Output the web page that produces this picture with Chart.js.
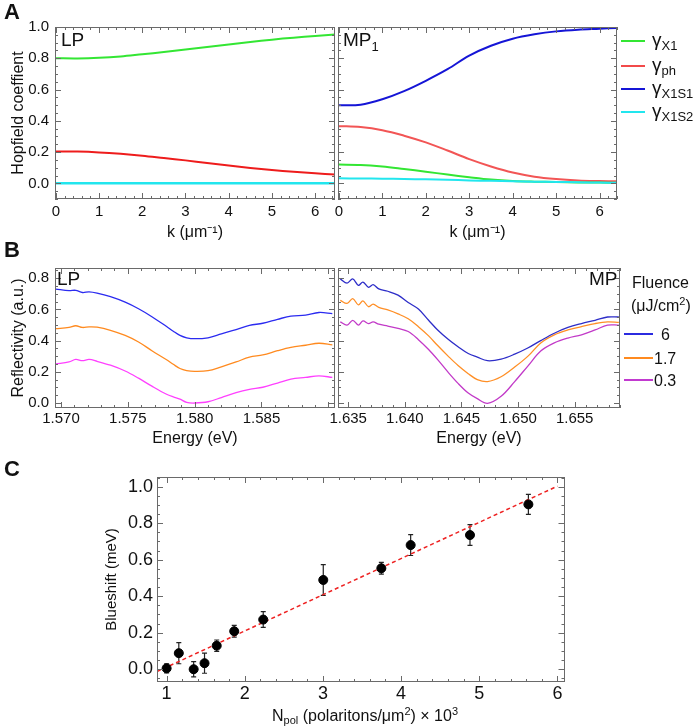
<!DOCTYPE html>
<html>
<head>
<meta charset="utf-8">
<script src="https://cdn.jsdelivr.net/npm/chart.js@4.4.1/dist/chart.umd.min.js"></script>
<style>
  body { margin: 0; background: #fff; font-family: 'Liberation Sans', Arial, sans-serif; color: #111; }
  #wrap { position: relative; width: 700px; height: 727px; overflow: hidden; }
  canvas { position: absolute; }
  .t { position: absolute; white-space: nowrap; line-height: 1; }
  .panel { font-weight: bold; font-size: 22px; }
  .lab { font-size: 19px; }
  .leg { position: absolute; height: 2px; width: 24px; }
  .g { font-size: 19px; }
  .g sub { font-size: 13px; vertical-align: -4px; }
  sub, sup { line-height: 0; }
</style>
</head>
<body>
<div id="wrap">
  <canvas id="aLP" width="336" height="243" style="left:0;top:0"></canvas>
  <canvas id="aMP" width="302" height="243" style="left:316px;top:0"></canvas>
  <canvas id="bLP" width="336" height="201" style="left:0;top:248px"></canvas>
  <canvas id="bMP" width="305" height="201" style="left:316px;top:248px"></canvas>
  <canvas id="cShift" width="480" height="272" style="left:90px;top:455px"></canvas>

  <div class="t panel" style="left:4px;top:1px">A</div>
  <div class="t panel" style="left:4px;top:239px">B</div>
  <div class="t panel" style="left:4px;top:458px">C</div>

  <div class="t lab" style="left:61px;top:30px">LP</div>
  <div class="t lab" style="left:343px;top:30px">MP<sub style="font-size:13px;vertical-align:-5px">1</sub></div>
  <div class="t lab" style="left:57px;top:269px">LP</div>
  <div class="t lab" style="left:589px;top:269px">MP</div>

  <!-- legend A -->
  <div class="leg" style="left:621px;top:40px;background:#33e633"></div>
  <div class="t g" style="left:652px;top:30px">γ<sub>X1</sub></div>
  <div class="leg" style="left:621px;top:65px;background:#f24a4a"></div>
  <div class="t g" style="left:652px;top:55px">γ<sub>ph</sub></div>
  <div class="leg" style="left:621px;top:88px;background:#1515d6"></div>
  <div class="t g" style="left:652px;top:78px">γ<sub>X1S1</sub></div>
  <div class="leg" style="left:621px;top:111px;background:#22e6ee"></div>
  <div class="t g" style="left:652px;top:101px">γ<sub>X1S2</sub></div>

  <!-- legend B -->
  <div class="t" style="left:632px;top:275px;font-size:16px">Fluence</div>
  <div class="t" style="left:631px;top:298px;font-size:16px">(μJ/cm<sup style="font-size:11px">2</sup>)</div>
  <div class="leg" style="left:624px;top:333px;width:29px;height:1.5px;background:#2b2be0"></div>
  <div class="t" style="left:661px;top:327px;font-size:16px">6</div>
  <div class="leg" style="left:624px;top:357px;width:29px;height:1.5px;background:#ff8a1f"></div>
  <div class="t" style="left:654px;top:351px;font-size:16px">1.7</div>
  <div class="leg" style="left:624px;top:379px;width:29px;height:1.5px;background:#c23ad0"></div>
  <div class="t" style="left:654px;top:373px;font-size:16px">0.3</div>

  <div class="t" style="left:272px;top:708px;font-size:16px">N<sub style="font-size:11px;vertical-align:-3px">pol</sub> (polaritons/μm<sup style="font-size:11px">2</sup>) × 10<sup style="font-size:11px">3</sup></div>
</div>

<script>
// ---- panel A: Hopfield coefficients vs k (µm^-1)
const kLP = [0, 0.5, 1, 1.5, 2, 2.5, 3, 3.5, 4, 4.5, 5, 5.5, 6, 6.46];
const lpX1 = [0.800, 0.799, 0.803, 0.812, 0.826, 0.840, 0.856, 0.872, 0.888, 0.904, 0.919, 0.932, 0.943, 0.952];
const lpPh = [0.204, 0.203, 0.198, 0.189, 0.177, 0.162, 0.147, 0.130, 0.114, 0.099, 0.086, 0.074, 0.064, 0.057];
const lpX1S1 = [0.002, 0.002, 0.002, 0.002, 0.002, 0.002, 0.002, 0.002, 0.002, 0.002, 0.002, 0.002, 0.002, 0.002];
const lpX1S2 = [0, 0, 0, 0, 0, 0, 0, 0, 0, 0, 0, 0, 0, 0];

const kMP = [0, 0.5, 1, 1.5, 2, 2.5, 3, 3.5, 4, 4.5, 5, 5.5, 6, 6.4];
const mpX1 = [0.120, 0.118, 0.108, 0.092, 0.075, 0.056, 0.039, 0.024, 0.015, 0.011, 0.009, 0.006, 0.005, 0.004];
const mpPh = [0.366, 0.360, 0.340, 0.305, 0.262, 0.210, 0.155, 0.108, 0.069, 0.043, 0.028, 0.019, 0.015, 0.013];
const mpX1S1 = [0.499, 0.503, 0.538, 0.590, 0.656, 0.730, 0.817, 0.880, 0.925, 0.953, 0.972, 0.983, 0.989, 0.994];
const mpX1S2 = [0.032, 0.031, 0.030, 0.028, 0.026, 0.023, 0.019, 0.016, 0.013, 0.011, 0.009, 0.007, 0.005, 0.004];

const hopTicksY = [0, 0.2, 0.4, 0.6, 0.8, 1.0];
const kTicks = [0, 1, 2, 3, 4, 5, 6];

// ---- panel B: reflectivity spectra (eV)
const eLP = [1.5696, 1.5706, 1.5711, 1.5716, 1.5721, 1.5727, 1.5737, 1.5748, 1.5758, 1.5768, 1.5779, 1.5784, 1.5789,
             1.5794, 1.5800, 1.5810, 1.5820, 1.5831, 1.5841, 1.5851, 1.5862, 1.5872, 1.5883, 1.5893, 1.5903];
const lpF6 = [0.730, 0.720, 0.722, 0.708, 0.712, 0.704, 0.681, 0.646, 0.604, 0.553, 0.490, 0.460, 0.433,
              0.418, 0.412, 0.418, 0.443, 0.470, 0.497, 0.511, 0.536, 0.557, 0.563, 0.580, 0.573];
const lpF17 = [0.476, 0.484, 0.495, 0.484, 0.488, 0.486, 0.466, 0.433, 0.391, 0.335, 0.277, 0.248, 0.221,
               0.208, 0.203, 0.207, 0.232, 0.263, 0.294, 0.308, 0.335, 0.356, 0.370, 0.383, 0.373];
const lpF03 = [0.250, 0.263, 0.279, 0.271, 0.279, 0.267, 0.242, 0.205, 0.159, 0.108, 0.056, 0.039, 0.025,
               0.004, 0.000, 0.008, 0.035, 0.066, 0.087, 0.101, 0.128, 0.153, 0.164, 0.174, 0.164];

const eMP = [1.6343, 1.6349, 1.6354, 1.6359, 1.6363, 1.6368, 1.6372, 1.6377, 1.6385, 1.6394, 1.6403, 1.6412, 1.6421,
             1.6429, 1.6438, 1.6447, 1.6456, 1.6464, 1.6473, 1.6485, 1.6497, 1.6509, 1.6520, 1.6532, 1.6544,
             1.6556, 1.6568, 1.6579, 1.6589];
const mpF6 = [0.795, 0.768, 0.795, 0.754, 0.775, 0.741, 0.758, 0.731, 0.716, 0.691, 0.644, 0.602, 0.530,
              0.468, 0.410, 0.360, 0.317, 0.294, 0.271, 0.281, 0.313, 0.354, 0.400, 0.447, 0.484,
              0.509, 0.530, 0.551, 0.551];
const mpF17 = [0.658, 0.638, 0.669, 0.629, 0.654, 0.617, 0.634, 0.613, 0.596, 0.571, 0.540, 0.489, 0.430,
               0.368, 0.302, 0.240, 0.188, 0.150, 0.137, 0.168, 0.230, 0.302, 0.385, 0.437, 0.468,
               0.489, 0.509, 0.520, 0.516];
const mpF03 = [0.520, 0.499, 0.530, 0.499, 0.526, 0.509, 0.520, 0.505, 0.493, 0.478, 0.458, 0.406, 0.343,
               0.278, 0.199, 0.126, 0.064, 0.028, -0.002, 0.043, 0.137, 0.240, 0.333, 0.385, 0.416,
               0.437, 0.468, 0.499, 0.499];

const reflTicksY = [0, 0.2, 0.4, 0.6, 0.8];
const eTicksLP = [1.570, 1.575, 1.580, 1.585];
const eTicksMP = [1.635, 1.640, 1.645, 1.650, 1.655];

// ---- panel C: blueshift vs polariton density
const nPol = [1.0, 1.156, 1.346, 1.485, 1.641, 1.865, 2.236, 3.004, 3.747, 4.122, 4.881, 5.628];
const shift = [0.005, 0.088, 0.000, 0.033, 0.129, 0.208, 0.272, 0.489, 0.553, 0.680, 0.735, 0.903];
const shiftErr = [0.025, 0.058, 0.042, 0.055, 0.031, 0.032, 0.043, 0.084, 0.032, 0.057, 0.057, 0.055];
const fitX = [0.877, 6.0];
const fitY = [-0.013, 1.003];
const nTicks = [1, 2, 3, 4, 5, 6];
const shiftTicks = [0, 0.2, 0.4, 0.6, 0.8, 1.0];

Chart.defaults.font.family = "'Liberation Sans', Arial, sans-serif";
Chart.defaults.color = '#111';

const pts = (xs, ys) => xs.map((x, i) => ({ x: x, y: ys[i] }));
const fixW = w => s => { s.width = w; };
const fixH = h => s => { s.height = h; };
const setTicks = vals => s => { s.ticks = vals.map(v => ({ value: v })); };

// Mathematica-style frame with inward major/minor ticks on all four sides
const frameTicks = {
    id: 'frameTicks',
    afterDatasetsDraw(chart, args, o) {
        const { ctx, chartArea: a } = chart;
        const xs = chart.scales.x, ys = chart.scales.y;
        ctx.save();
        ctx.strokeStyle = '#6a6a6a';
        ctx.lineWidth = 1;
        ctx.beginPath();
        const marks = (scale, step, len, horiz) => {
            const n0 = Math.ceil(scale.min / step - 1e-6), n1 = Math.floor(scale.max / step + 1e-6);
            for (let n = n0; n <= n1; n++) {
                const p = Math.round(scale.getPixelForValue(n * step)) + 0.5;
                if (horiz) {
                    ctx.moveTo(p, a.bottom); ctx.lineTo(p, a.bottom - len);
                    ctx.moveTo(p, a.top); ctx.lineTo(p, a.top + len);
                } else {
                    ctx.moveTo(a.left, p); ctx.lineTo(a.left + len, p);
                    ctx.moveTo(a.right, p); ctx.lineTo(a.right - len, p);
                }
            }
        };
        marks(xs, o.xMinor, 3, true);
        marks(xs, o.xMajor, 6, true);
        marks(ys, o.yMinor, 3, false);
        marks(ys, o.yMajor, 6, false);
        ctx.stroke();
        ctx.strokeRect(Math.round(a.left) + 0.5, Math.round(a.top) + 0.5,
                       Math.round(a.right - a.left) - 1, Math.round(a.bottom - a.top) - 1);
        ctx.restore();
    }
};

const errorBars = {
    id: 'errorBars',
    beforeDatasetsDraw(chart) {
        const { ctx, scales: { x, y } } = chart;
        ctx.save();
        ctx.strokeStyle = '#222';
        ctx.lineWidth = 1.2;
        nPol.forEach((n, i) => {
            const px = x.getPixelForValue(n);
            const top = y.getPixelForValue(shift[i] + shiftErr[i]);
            const bot = y.getPixelForValue(shift[i] - shiftErr[i]);
            ctx.beginPath();
            ctx.moveTo(px, top); ctx.lineTo(px, bot);
            ctx.moveTo(px - 2.5, top); ctx.lineTo(px + 2.5, top);
            ctx.moveTo(px - 2.5, bot); ctx.lineTo(px + 2.5, bot);
            ctx.stroke();
        });
        ctx.restore();
    }
};

function line(xs, ys, color, width) {
    return { data: pts(xs, ys), borderColor: color, borderWidth: width, pointRadius: 0, tension: 0.35, fill: false };
}

function makeChart(id, datasets, opt) {
    const yScale = opt.yTitle ? {
        type: 'linear', min: opt.yMin, max: opt.yMax,
        afterFit: fixW(opt.yWidth), afterBuildTicks: setTicks(opt.yTicks),
        grid: { display: false, drawTicks: false }, border: { display: false },
        ticks: { padding: opt.yPad, font: { size: opt.tickSize }, callback: v => v.toFixed(1) },
        title: { display: true, text: opt.yTitle, font: { size: opt.titleSize }, padding: { top: opt.yTitlePad, bottom: 0 } }
    } : { type: 'linear', min: opt.yMin, max: opt.yMax, display: false };

    return new Chart(document.getElementById(id), {
        type: 'line',
        data: { datasets: datasets },
        options: {
            responsive: false,
            animation: false,
            events: [],
            layout: { padding: { top: opt.padTop, right: 1, left: opt.padLeft || 0, bottom: 0 } },
            scales: {
                x: {
                    type: 'linear', min: opt.xMin, max: opt.xMax,
                    afterFit: fixH(opt.xHeight), afterBuildTicks: setTicks(opt.xTicks),
                    grid: { display: false, drawTicks: false }, border: { display: false },
                    ticks: { padding: opt.xPad, maxRotation: 0, font: { size: opt.tickSize }, callback: opt.xFmt },
                    title: { display: true, text: opt.xTitle, font: { size: opt.titleSize }, padding: { top: 0, bottom: opt.xTitlePad } }
                },
                y: yScale
            },
            plugins: {
                legend: { display: false },
                tooltip: { enabled: false },
                frameTicks: opt.frame
            }
        },
        plugins: [frameTicks].concat(opt.extra || [])
    });
}

// ---- A
const aCommon = {
    yMin: -0.1, yMax: 1.0, yTicks: hopTicksY, xTicks: kTicks, xHeight: 44, padTop: 27,
    tickSize: 15, titleSize: 16, xPad: 4, xTitlePad: 1, xFmt: v => String(v),
    frame: { xMajor: 1, xMinor: 0.2, yMajor: 0.2, yMinor: 0.05 }
};
makeChart('aLP', [
    line(kLP, lpX1S2, '#22e6ee', 2.5),
    line(kLP, lpX1S1, '#1515d6', 2),
    line(kLP, lpPh, '#ee1c1c', 2),
    line(kLP, lpX1, '#33e633', 2)
], Object.assign({}, aCommon, {
    xMin: -0.02, xMax: 6.46, xTitle: 'k (μm⁻¹)',
    yTitle: 'Hopfield coeffient', yWidth: 55, yPad: 6, yTitlePad: 9
}));
makeChart('aMP', [
    line(kMP, mpX1S2, '#22e6ee', 2),
    line(kMP, mpX1, '#33e633', 2),
    line(kMP, mpPh, '#f25555', 2),
    line(kMP, mpX1S1, '#1515d6', 2)
], Object.assign({}, aCommon, {
    xMin: -0.02, xMax: 6.4, xTitle: 'k (μm⁻¹)', padLeft: 22
}));

// ---- B
const bCommon = {
    yMin: -0.032, yMax: 0.865, yTicks: reflTicksY, xHeight: 41, padTop: 20,
    tickSize: 15, titleSize: 16, xPad: 2, xTitlePad: 1, xFmt: v => v.toFixed(3),
    frame: { xMajor: 0.005, xMinor: 0.001, yMajor: 0.2, yMinor: 0.05 }
};
makeChart('bLP', [
    line(eLP, lpF6, '#2b2bf0', 1.3),
    line(eLP, lpF17, '#ff8a1f', 1.3),
    line(eLP, lpF03, '#ff40ff', 1.3)
], Object.assign({}, bCommon, {
    xMin: 1.56955, xMax: 1.5905, xTicks: eTicksLP, xTitle: 'Energy (eV)',
    yTitle: 'Reflectivity (a.u.)', yWidth: 55, yPad: 6, yTitlePad: 9
}));
makeChart('bMP', [
    line(eMP, mpF6, '#2d2dc8', 1.3),
    line(eMP, mpF17, '#ff8f26', 1.3),
    line(eMP, mpF03, '#c23ac8', 1.3)
], Object.assign({}, bCommon, {
    xMin: 1.6341, xMax: 1.6590, xTicks: eTicksMP, xTitle: 'Energy (eV)', padLeft: 22
}));

// ---- C
makeChart('cShift', [
    { type: 'scatter', data: pts(nPol, shift), backgroundColor: '#000', borderColor: '#000', pointRadius: 4.5, showLine: false },
    { data: pts(fitX, fitY), borderColor: '#ee2222', borderWidth: 1.5, borderDash: [4, 3], pointRadius: 0, tension: 0 }
], {
    xMin: 0.877, xMax: 6.09, xTicks: nTicks, xHeight: 45, padTop: 22,
    tickSize: 18, titleSize: 15, xPad: 1, xTitlePad: 0, xFmt: v => String(v), xTitle: '',
    yMin: -0.07, yMax: 1.053, yTicks: shiftTicks, yTitle: 'Blueshift (meV)', yWidth: 67, yPad: 4, yTitlePad: 13,
    frame: { xMajor: 1, xMinor: 0.2, yMajor: 0.2, yMinor: 0.05 },
    extra: [errorBars]
});
</script>
</body>
</html>
